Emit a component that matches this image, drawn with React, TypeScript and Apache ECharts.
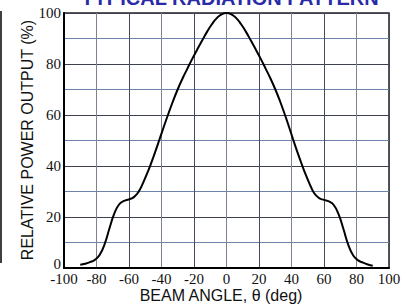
import React, { useEffect, useRef } from "react";
import * as echarts from "echarts";

const TITLE = "TYPICAL RADIATION PATTERN";
const X_NAME = "BEAM ANGLE, θ (deg)";
const Y_NAME = "RELATIVE POWER OUTPUT (%)";

const angles = [
  -90, -87, -84, -81, -78, -75, -72, -69, -66, -63, -60, -57, -54, -51, -48, -45,
  -42, -39, -36, -33, -30, -27, -24, -21, -18, -15, -12, -9, -6, -3, 0,
  3, 6, 9, 12, 15, 18, 21, 24, 27, 30, 33, 36, 39, 42, 45, 48, 51, 54, 57, 60,
  63, 66, 69, 72, 75, 78, 81, 84, 87, 90,
];
const power = [
  1.3, 1.7, 2.3, 3.2, 5.2, 9.4, 15.6, 21.4, 25.0, 26.3, 26.9, 27.8, 30.0, 33.9, 38.4, 43.5,
  49.0, 54.6, 60.1, 65.3, 70.1, 74.4, 78.3, 82.1, 85.7, 89.2, 92.6, 95.6, 98.0, 99.5, 100,
  99.5, 98.0, 95.6, 92.6, 89.2, 85.7, 82.1, 78.3, 74.4, 70.1, 65.3, 60.0, 54.3, 48.5, 43.0, 37.8,
  33.2, 29.3, 27.4, 26.7, 26.1, 24.7, 21.0, 15.2, 9.0, 4.9, 3.0, 2.1, 1.4, 0.9,
];

export default function App() {
  const ref = useRef<HTMLDivElement>(null);
  useEffect(() => {
    if (!ref.current) return;
    const chart = echarts.init(ref.current, undefined, { renderer: "svg" });
    const serif = "'Liberation Serif', 'DejaVu Serif', 'Times New Roman', serif";
    const sans = "'Liberation Sans', Arial, sans-serif";
    chart.setOption({
      animation: false,
      backgroundColor: "#ffffff",
      grid: {
        left: 64,
        top: 13,
        right: 23,
        bottom: 40,
        show: true,
        borderColor: "#222",
        borderWidth: 1.5,
        backgroundColor: "transparent",
      },
      xAxis: {
        type: "value",
        min: -100,
        max: 100,
        interval: 20,
        axisLine: { show: true, onZero: false, lineStyle: { color: "#000", width: 2 } },
        axisTick: { show: false },
        axisLabel: { color: "#111", fontFamily: serif, fontSize: 15, margin: 4, lineHeight: 14 },
        splitLine: { show: true, lineStyle: { color: ["#444a5a", "#7d8290"], width: 1 } },
      },
      yAxis: {
        type: "value",
        min: 0,
        max: 100,
        interval: 10,
        axisLine: { show: true, onZero: false, lineStyle: { color: "#000", width: 2 } },
        axisTick: { show: false },
        axisLabel: {
          color: "#111",
          fontFamily: serif,
          fontSize: 15,
          margin: 3,
          lineHeight: 14,
          formatter: (v: number) =>
            v === 0 ? "{z|0}" : v % 20 === 0 ? String(v) : "",
          rich: {
            z: { fontFamily: serif, fontSize: 15, color: "#111", lineHeight: 14, padding: [0, 0, 8, 0] },
          },
        },
        splitLine: { show: true, lineStyle: { color: ["#3d4050", "#6f82aa"], width: 1 } },
      },
      graphic: [
        {
          type: "text",
          x: 230,
          y: -2,
          style: {
            text: TITLE,
            fill: "#2a2aa8",
            font: `bold 20px ${sans}`,
            align: "center",
            verticalAlign: "middle",
          },
        },
        {
          type: "text",
          x: 27,
          y: 140,
          rotation: Math.PI / 2,
          style: {
            text: Y_NAME,
            fill: "#111",
            font: `16px ${sans}`,
            align: "center",
            verticalAlign: "middle",
          },
        },
        {
          type: "text",
          x: 221,
          y: 295,
          style: {
            text: X_NAME,
            fill: "#111",
            font: `16px ${sans}`,
            align: "center",
            verticalAlign: "middle",
          },
        },
        {
          type: "line",
          shape: { x1: 1, y1: 11, x2: 1, y2: 263 },
          style: { stroke: "#000", lineWidth: 1.5 },
        },
      ],
      series: [
        {
          type: "line",
          data: angles.map((a, i) => [a, power[i]]),
          smooth: 0.5,
          showSymbol: false,
          lineStyle: { color: "#000", width: 2 },
        },
      ],
    });
    return () => chart.dispose();
  }, []);
  return (
    <div
      ref={ref}
      style={{ position: "fixed", left: 0, top: 0, width: 412, height: 308 }}
    />
  );
}
